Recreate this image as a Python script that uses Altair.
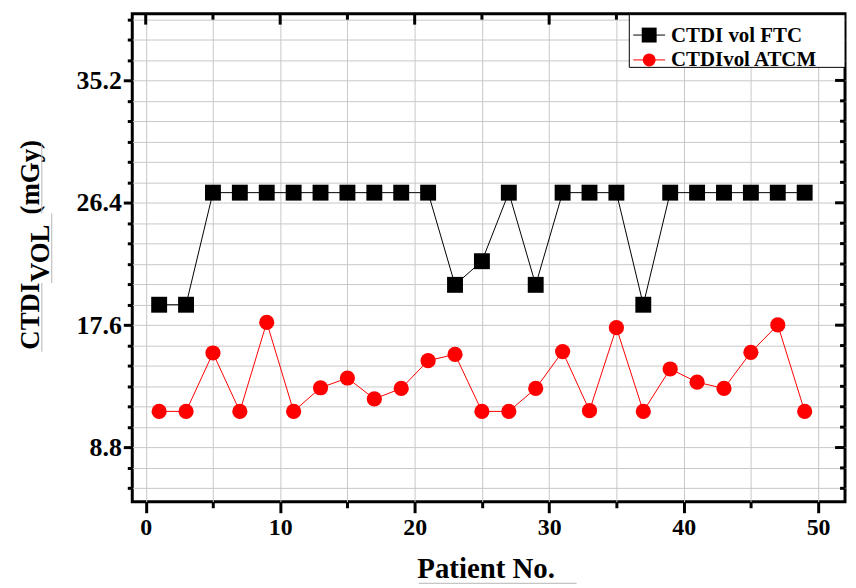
import altair as alt
import pandas as pd

# ---------------- data ----------------
patient = [1, 3, 5, 7, 9, 11, 13, 15, 17, 19, 21, 23, 25, 27, 29, 31, 33, 35, 37, 39, 41, 43, 45, 47, 49]
ctdi_ftc = [19.07, 19.07, 27.13, 27.13, 27.13, 27.13, 27.13, 27.13, 27.13, 27.13, 27.13, 20.5, 22.2,
            27.13, 20.5, 27.13, 27.13, 27.13, 19.07, 27.13, 27.13, 27.13, 27.13, 27.13, 27.13]
ctdi_atcm = [11.4, 11.4, 15.6, 11.4, 17.8, 11.4, 13.1, 13.8, 12.3, 13.05, 15.05, 15.5, 11.4,
             11.4, 13.05, 15.7, 11.45, 17.42, 11.4, 14.45, 13.5, 13.05, 15.65, 17.62, 11.4]

x_major = [0, 10, 20, 30, 40, 50]
x_minor = [5, 15, 25, 35, 45]
y_major = [8.8, 17.6, 26.4, 35.2]
y_minor = [5.8667, 7.3333, 10.2667, 11.7333, 13.2, 14.6667, 16.1333, 19.0667, 20.5333, 22.0,
           23.4667, 24.9333, 27.8667, 29.3333, 30.8, 32.2667, 33.7333, 36.6667, 38.1333, 39.6]

legend_labels = ["CTDI vol FTC", "CTDIvol ATCM"]
x_title = "Patient No."
y_title_parts = ["CTDI", "VOL", "(mGy)"]

# ---------------- styling ----------------
FONT = "Liberation Serif"
W, H = 717, 491
GRID = "#c8c8c8"
ULINE = "#b4b4b4"

df = pd.DataFrame({"patient": patient, "ftc": ctdi_ftc, "atcm": ctdi_atcm})
xs = alt.Scale(domain=[-1, 52], nice=False, zero=False)
ys = alt.Scale(domain=[4.9, 40], nice=False, zero=False)

x_all = sorted(x_major + x_minor)
y_all = sorted(y_major + y_minor)
ymaj_js = "[" + ",".join(str(v) for v in y_major) + "]"
ytest = f"indexof({ymaj_js}, datum.value) >= 0"

x_axis = alt.Axis(
    values=x_all, title=None, domain=False, grid=True, gridColor=GRID, gridWidth=1,
    labelExpr="datum.value % 10 === 0 ? datum.label : ''",
    labelFont=FONT, labelFontSize=24, labelFontWeight="bold", labelColor="black",
    labelPadding=3, labelOverlap=False, labelFlush=False,
    tickColor="black", tickWidth=3,
    tickSize={"condition": {"test": "datum.value % 10 === 0", "value": 11}, "value": 6},
)
y_axis = alt.Axis(
    values=y_all, title=None, domain=False, grid=True, gridColor=GRID, gridWidth=1,
    format=".1f", labelExpr=f"{ytest} ? datum.label : ''",
    labelFont=FONT, labelFontSize=26, labelFontWeight="bold", labelColor="black",
    labelPadding=2, labelOverlap=False, labelFlush=False,
    tickColor="black", tickWidth=3,
    tickSize={"condition": {"test": ytest, "value": 9}, "value": 5},
)

def X(field):
    return alt.X(field, scale=xs, axis=x_axis, title=None)

def Y(field):
    return alt.Y(field, scale=ys, axis=y_axis, title=None)

base = alt.Chart(df)
line_ftc = base.mark_line(color="black", strokeWidth=1).encode(x=X("patient:Q"), y=Y("ftc:Q"))
pts_ftc = base.mark_point(shape="square", filled=True, size=256, color="black", opacity=1).encode(
    x=X("patient:Q"), y=Y("ftc:Q"))
line_atcm = base.mark_line(color="#ff0000", strokeWidth=1).encode(x=X("patient:Q"), y=Y("atcm:Q"))
pts_atcm = base.mark_circle(size=234, color="#ff0000", opacity=1).encode(
    x=X("patient:Q"), y=Y("atcm:Q"))

# inward ticks on top and right frame
def top_ticks(vals, length):
    return alt.Chart(pd.DataFrame({"patient": vals})).mark_rule(color="black", strokeWidth=3).encode(
        x=X("patient:Q"), y=alt.value(0), y2=alt.value(length))

def right_ticks(vals, length):
    return alt.Chart(pd.DataFrame({"ftc": vals})).mark_rule(color="black", strokeWidth=3).encode(
        y=Y("ftc:Q"), x=alt.value(W), x2=alt.value(W - length))

one = alt.Chart(pd.DataFrame({"a": [0]}))

# legend (manual)
leg_box = one.mark_rect(fill="white", stroke="black", strokeWidth=1).encode(
    x=alt.value(500), x2=alt.value(W), y=alt.value(1), y2=alt.value(54))
leg_l1 = one.mark_rule(color="black", strokeWidth=1).encode(
    x=alt.value(504), x2=alt.value(536), y=alt.value(21.5))
leg_p1 = one.mark_point(shape="square", filled=True, size=225, color="black", opacity=1).encode(
    x=alt.value(520), y=alt.value(21.5))
leg_t1 = one.mark_text(text=legend_labels[0], font=FONT, fontSize=21, fontWeight="bold",
                       align="left", baseline="alphabetic", color="black").encode(
    x=alt.value(542), y=alt.value(28))
leg_l2 = one.mark_rule(color="#ff0000", strokeWidth=1).encode(
    x=alt.value(504), x2=alt.value(536), y=alt.value(46.5))
leg_p2 = one.mark_circle(size=170, color="#ff0000", opacity=1).encode(
    x=alt.value(520), y=alt.value(46.5))
leg_t2 = one.mark_text(text=legend_labels[1], font=FONT, fontSize=21, fontWeight="bold",
                       align="left", baseline="alphabetic", color="black").encode(
    x=alt.value(542), y=alt.value(52.5))

# axis titles (manual, to allow subscript)
def ytext(txt, x, y):
    return one.mark_text(text=txt, font=FONT, fontSize=27, fontWeight="bold", angle=270,
                         align="left", baseline="alphabetic", color="black").encode(
        x=alt.value(x), y=alt.value(y))

yt1 = ytext(y_title_parts[0], -94, 338)
yt2 = ytext(y_title_parts[1], -84, 270)
yt3 = ytext(y_title_parts[2], -94, 202)

def vline(x, y1, y2):
    return one.mark_rule(color=ULINE, strokeWidth=1).encode(
        x=alt.value(x), y=alt.value(y1), y2=alt.value(y2))

yu1 = vline(-91, 271, 340)
yu2 = vline(-81, 201, 271)
yu3 = vline(-91, 131, 201)

xt = one.mark_text(text=x_title, font=FONT, fontSize=29, fontWeight="bold",
                   align="center", baseline="alphabetic", color="black").encode(
    x=alt.value(356), y=alt.value(568))
xu = one.mark_rule(color=ULINE, strokeWidth=1).encode(
    x=alt.value(288), x2=alt.value(447), y=alt.value(573))

chart = alt.layer(
    line_ftc, pts_ftc, line_atcm, pts_atcm,
    top_ticks(x_major, 11), top_ticks(x_minor, 6),
    right_ticks(y_major, 10), right_ticks(y_minor, 5),
    leg_box, leg_l1, leg_p1, leg_t1, leg_l2, leg_p2, leg_t2,
    yt1, yt2, yt3, yu1, yu2, yu3, xt, xu,
).properties(
    width=W, height=H,
    autosize=alt.AutoSizeParams(type="none"),
    padding={"left": 125, "top": 4, "right": 3, "bottom": 83},
    background="white",
).configure_view(stroke="black", strokeWidth=3)

chart.save("out.html", embed_options={"renderer": "svg", "actions": False})
